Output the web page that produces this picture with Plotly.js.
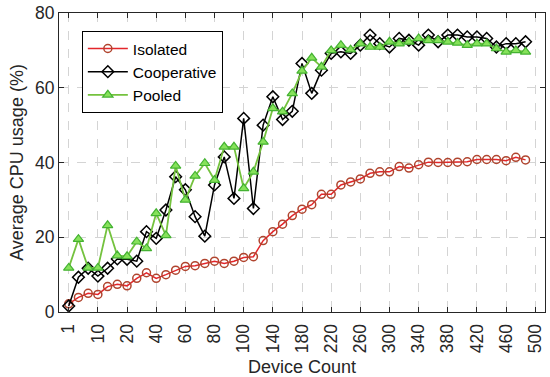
<!DOCTYPE html>
<html>
<head>
<meta charset="utf-8">
<script src="https://cdn.plot.ly/plotly-3.0.1.min.js"></script>
<style>html,body{margin:0;padding:0;background:#fff;}#chart{width:550px;height:377px;}</style>
</head>
<body>
<div id="chart"></div>
<script>
// Tick labels of the device-count axis (one label every 3 measurement steps)
const tickLabels = ['1','10','20','40','60','80','100','140','180','220','260','300','340','380','420','460','500'];

// Average CPU usage (%) per measurement step
const isolated = [2.2,3.9,5.0,4.7,6.8,7.4,7.0,9.0,10.5,9.0,10.0,11.2,12.2,12.4,13.0,13.6,13.0,13.6,14.6,14.8,
  19.1,21.5,23.5,25.8,27.5,28.7,31.5,31.5,34.0,34.8,35.6,37.1,37.5,37.5,38.9,38.5,39.4,40.1,40.0,40.0,
  40.1,40.2,40.8,40.8,40.8,40.5,41.4,40.7];
const cooperative = [1.6,9.3,11.7,9.6,11.7,14.2,14.1,13.6,21.5,19.7,27.3,36.2,32.7,25.5,20.3,34.0,41.5,30.4,51.8,27.7,
  50.0,57.6,51.5,53.7,66.5,58.5,64.7,69.2,69.6,69.2,71.4,74.1,71.8,70.9,73.2,72.7,71.4,74.1,72.3,74.1,
  74.1,73.6,73.6,73.2,70.9,71.8,71.8,72.3];
const pooled = [11.8,19.5,11.8,11.8,23.2,15.1,14.9,18.8,17.0,26.4,20.5,39.1,30.0,36.4,39.8,35.3,44.2,44.2,33.1,37.5,
  45.5,54.5,53.6,58.5,64.5,68.0,65.6,70.0,71.4,70.2,71.8,70.9,70.9,72.3,71.8,72.3,73.2,72.7,72.7,72.3,
  72.0,71.4,71.8,71.8,70.5,69.6,70.0,69.6];

const steps = isolated.map((_, i) => i);
const tickSteps = tickLabels.map((_, i) => i * 3);

const font = 'Liberation Sans, Arial, sans-serif';
const textColor = '#262626';

const traces = [
  {x: steps, y: isolated, name: 'Isolated', type: 'scatter', mode: 'lines+markers',
   line: {color: '#e3262b', width: 1.5},
   marker: {symbol: 'circle-open', size: 8, color: '#b0442e', line: {width: 1.5}}},
  {x: steps, y: cooperative, name: 'Cooperative', type: 'scatter', mode: 'lines+markers',
   line: {color: '#000000', width: 1.5},
   marker: {symbol: 'diamond-open', size: 9, color: '#000000', line: {width: 1.5}}},
  {x: steps, y: pooled, name: 'Pooled', type: 'scatter', mode: 'lines+markers',
   line: {color: '#74c23e', width: 1.8},
   marker: {symbol: 'triangle-up', size: 9, color: '#86e25a', line: {color: '#44b232', width: 1.2}}}
];

const axisCommon = {
  showline: true, linecolor: '#262626', linewidth: 1, mirror: 'ticks',
  ticks: 'inside', ticklen: 5, tickcolor: '#262626', tickwidth: 1,
  showgrid: true, gridcolor: '#d4d4d4', griddash: 'dash', gridwidth: 1,
  zeroline: false, tickfont: {family: font, size: 17.5, color: textColor}
};

const layout = {
  width: 550, height: 377,
  margin: {l: 59, r: 5, t: 13, b: 65},
  paper_bgcolor: '#ffffff', plot_bgcolor: '#ffffff',
  font: {family: font, color: textColor},
  showlegend: true,
  legend: {x: 0.047, y: 0.94, xanchor: 'left', yanchor: 'top',
    bgcolor: '#ffffff', bordercolor: '#000000', borderwidth: 1,
    font: {family: font, size: 15.5, color: '#000000'}, itemwidth: 40, tracegroupgap: 0},
  xaxis: Object.assign({}, axisCommon, {
    range: [-1, 49], tickmode: 'array', tickvals: tickSteps, ticktext: tickLabels,
    tickangle: -90, ticklabelstandoff: 4,
    title: {text: 'Device Count', font: {family: font, size: 18, color: textColor}, standoff: 10}
  }),
  yaxis: Object.assign({}, axisCommon, {
    range: [0, 80], tickmode: 'array', tickvals: [0, 20, 40, 60, 80],
    title: {text: 'Average CPU usage (%)', font: {family: font, size: 18, color: textColor}, standoff: 6}
  })
};

Plotly.newPlot('chart', traces, layout, {displayModeBar: false, staticPlot: true});
</script>
</body>
</html>
